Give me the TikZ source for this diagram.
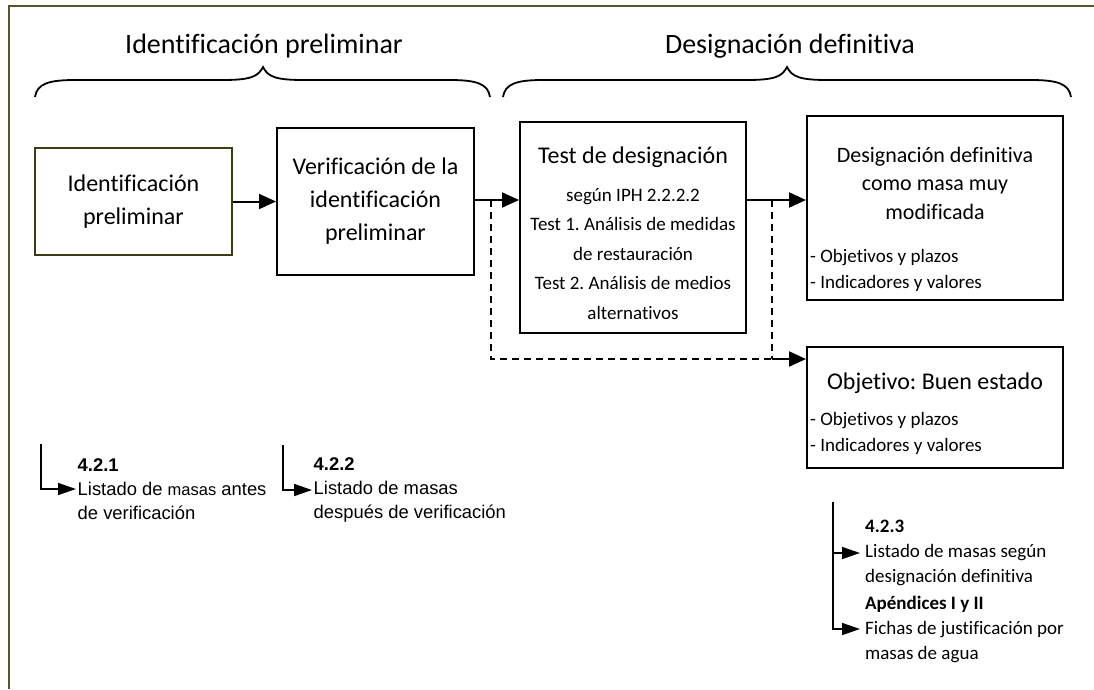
\documentclass[tikz,border=0pt]{standalone}
\usepackage{fontspec}
\setmainfont{Carlito}[Ligatures=NoCommon]
\newfontfamily\arialfont{Liberation Sans}[Ligatures=NoCommon]
\usetikzlibrary{arrows.meta,positioning}
\definecolor{framecol}{RGB}{85,85,45}
\definecolor{olivebox}{RGB}{60,60,20}
\frenchspacing

\tikzset{
	box/.style={rectangle,draw,line width=2pt,inner sep=0pt,align=center},
	txt/.style={inner sep=0pt},
	bigtext/.style={font=\fontsize{24}{33}\selectfont},
	smalltext/.style={font=\fontsize{19}{26}\selectfont},
	reftext/.style={font=\arialfont\fontsize{18.4}{24}\selectfont,align=left,inner xsep=1.5pt,inner ysep=0pt},
	rightref/.style={font=\fontsize{19}{25}\selectfont,align=left,inner xsep=5pt,inner ysep=0pt},
	flow/.style={line width=2pt,arrows={-Triangle[length=17pt,width=15pt]}},
	refarrow/.style={line width=1.6pt,arrows={-Triangle[length=18pt,width=12pt]}},
	dashline/.style={line width=1.6pt,dash pattern=on 7pt off 5pt}
}

\begin{document}
\begin{tikzpicture}[x=1pt,y=-1pt]
		\useasboundingbox (0,0) rectangle (1094,689);
		\draw[framecol,line width=2pt] (8.5,689) -- (8.5,5.5) -- (1094,5.5);

		% titulos y llaves
		\node[txt,font=\fontsize{28}{34}\selectfont] (titleprel) at (264,46) {Identificación preliminar};
		\node[txt,font=\fontsize{28}{34}\selectfont] (titledef) at (790,46) {Designación definitiva};
		\draw[line width=1.8pt] (35,97) .. controls (37,84) and (48,80) .. (75,80) -- (222,80)
			.. controls (250,80) and (258,77) .. (263,67) .. controls (268,77) and (276,80) .. (304,80)
			-- (450,80) .. controls (477,80) and (488,84) .. (490,97);
		\draw[line width=1.8pt] (503,97) .. controls (505,84) and (516,80) .. (543,80) -- (746,80)
			.. controls (774,80) and (782,77) .. (787,67) .. controls (792,77) and (800,80) .. (828,80)
			-- (1031,80) .. controls (1058,80) and (1069,84) .. (1071,97);

		% cajas
		\node[box,draw=olivebox,bigtext,minimum width=197pt,minimum height=107pt] (ident)
			at (133.5,201.5) {Identificación\\preliminar};
		\node[box,bigtext,minimum width=197pt,minimum height=147pt] (verif)
			at (375.5,201.5) {Verificación de la\\identificación\\preliminar};
		\node[box,minimum width=226pt,minimum height=211pt] (test) at (633,227.5) {};
		\node[box,minimum width=256pt,minimum height=184pt] (desig) at (935,208) {};
		\node[box,minimum width=256pt,minimum height=121pt] (obj) at (935,407.5) {};

		\node[txt,font=\fontsize{24}{30}\selectfont] (testtitle) at (633,157) {Test de designación};
		\node[txt,align=center,font=\fontsize{19}{29.5}\selectfont] (testbody)
			at (633,254) {según IPH 2.2.2.2\\Test 1. Análisis de medidas\\de restauración\\Test 2. Análisis de medios\\alternativos};

		\node[txt,align=center,font=\fontsize{22}{28.5}\selectfont] (desigtitle)
			at (935,183) {Designación definitiva\\como masa muy\\modificada};
		\node[txt,smalltext,align=left,anchor=west] (desigitems)
			at (810,270) {- Objetivos y plazos\\- Indicadores y valores};

		\node[txt,font=\fontsize{24}{30}\selectfont] (objtitle) at (935,383) {Objetivo: Buen estado};
		\node[txt,smalltext,align=left,anchor=west] (objitems)
			at (810,433) {- Objetivos y plazos\\- Indicadores y valores};

		% flechas
		\coordinate (fork1) at (491,200);
		\coordinate (fork2) at (772,200);
		\coordinate (merge) at (772,359);
		\draw[flow] (ident) -- (verif);
		\draw[flow] (verif.east |- fork1) -- (fork1 -| test.west);
		\draw[flow] (fork1 -| test.east) -- (fork1 -| desig.west);
		\draw[dashline] (fork1) |- (merge);
		\draw[dashline] (fork2) -- (merge);
		\draw[flow] (merge) -- (merge -| obj.west);

		% referencias
		\coordinate (ref1top) at (41,444);
		\node[reftext,anchor=west] (ref1) at (76,489)
			{\textbf{4.2.1}\\Listado de {\fontsize{16.5}{24}\selectfont masas} antes\\de verificación};
		\draw[refarrow] (ref1top) |- (ref1.west);

		\coordinate (ref2top) at (283,445);
		\node[reftext,anchor=west] (ref2) at (312,490)
			{\textbf{4.2.2}\\Listado de masas\\después de verificación};
		\draw[refarrow] (ref2top) |- (ref2.west);

		\coordinate (ref3top) at (833,502);
		\node[rightref,anchor=west] (ref3) at (860,553)
			{\textbf{4.2.3}\\Listado de masas según\\designación definitiva};
		\node[rightref,anchor=west] (ref4) at (860,629)
			{\textbf{Apéndices I y II}\\Fichas de justificación por\\masas de agua};
		\draw[refarrow] (ref3top) |- (ref3.west);
		\draw[refarrow] (ref3top) |- (ref4.west);
	\end{tikzpicture}
\end{document}
